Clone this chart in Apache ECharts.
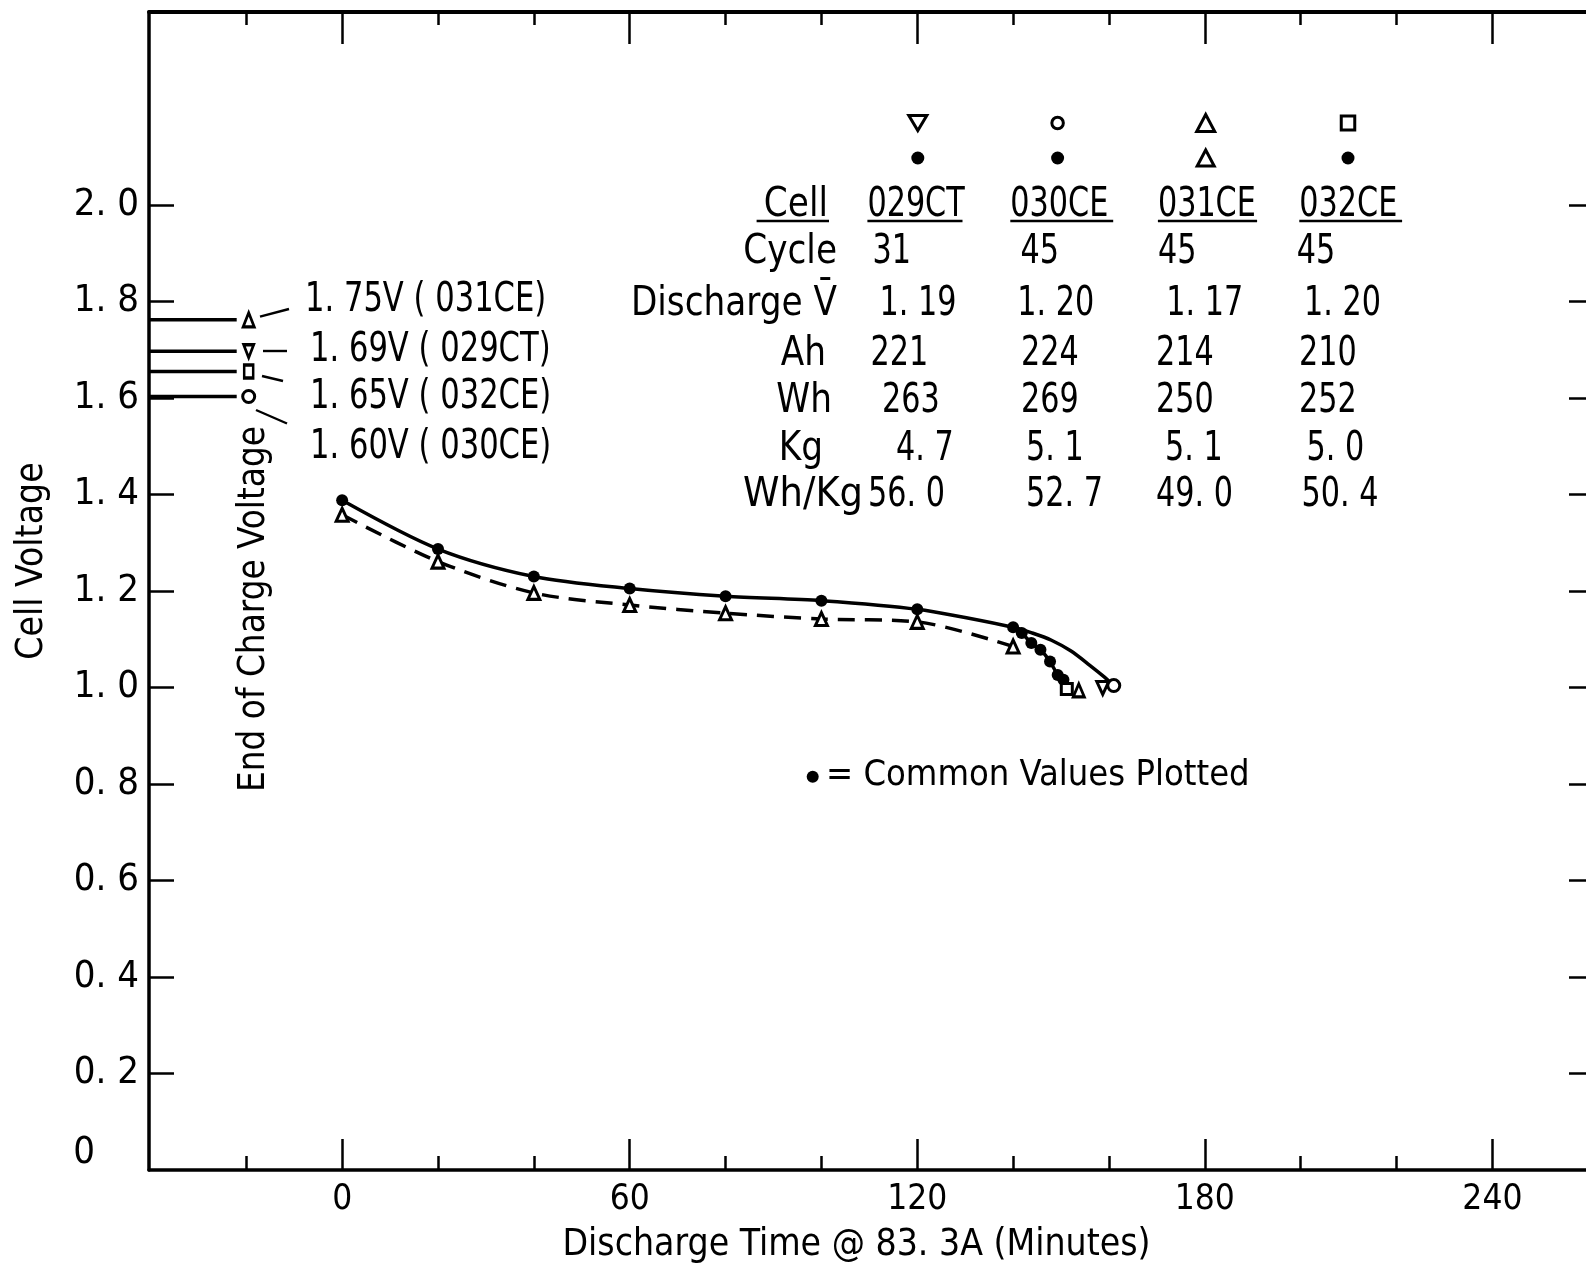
<!DOCTYPE html>
<html><head><meta charset="utf-8">
<script src="https://cdn.jsdelivr.net/npm/echarts@6/dist/echarts.min.js"></script>
<style>html,body{margin:0;padding:0;background:#fff;overflow:hidden;}#c{width:1600px;height:1271px;}</style>
</head><body><div id="c"></div>
<script>
// ---------------- data ----------------
const cellNames = ['029CT', '030CE', '031CE', '032CE'];
// common values (filled dots, solid line)
const commonTime = [0, 20, 40, 60, 80, 100, 120, 140];
const commonVolt = [1.388, 1.287, 1.230, 1.205, 1.189, 1.180, 1.162, 1.125];
// solid line tail to 030CE end point
const tail030Time = [144, 148, 152, 156, 159];
const tail030Volt = [1.113, 1.098, 1.076, 1.046, 1.022];
// 031CE (open triangles, dashed line)
const cell031Time = [0, 20, 40, 60, 80, 100, 120, 140];
const cell031Volt = [1.358, 1.261, 1.196, 1.171, 1.154, 1.142, 1.136, 1.085];
// common-value dots of the steep tail
const tailDotsTime = [141.8, 143.8, 145.7, 147.7, 149.3, 150.5];
const tailDotsVolt = [1.113, 1.092, 1.078, 1.054, 1.026, 1.016];
// end of discharge points per cell
const endTime = [158.7, 161.0, 153.7, 151.2];
const endVolt = [0.999, 1.004, 0.994, 0.997];
// end of charge voltages per cell
const eocRated = [1.69, 1.60, 1.75, 1.65];
const eocVolt = [1.697, 1.603, 1.762, 1.655];
// table
const cycles = [31, 45, 45, 45];
const dischargeV = [1.19, 1.20, 1.17, 1.20];
const ampHours = [221, 224, 214, 210];
const wattHours = [263, 269, 250, 252];
const massKg = [4.7, 5.1, 5.1, 5.0];
const whPerKg = [56.0, 52.7, 49.0, 50.4];
// axes
const yTickValues = [0.2, 0.4, 0.6, 0.8, 1.0, 1.2, 1.4, 1.6, 1.8, 2.0];
const yLabelValues = [0, 0.2, 0.4, 0.6, 0.8, 1.0, 1.2, 1.4, 1.6, 1.8, 2.0];
const xMajorTicks = [0, 60, 120, 180, 240];
const xMinorTicks = [-20, 20, 40, 80, 100, 140, 160, 200, 220];

// ---------------- layout / style ----------------
const NARROW = "'DejaVu Sans Condensed','Liberation Sans Narrow',sans-serif";
const X_MIN = -40.3, X_MAX = 261.2, Y_MIN = 0, Y_MAX = 2.4;
const EOC_MARK_X = -19.5, EOC_LINE_END = -22;
const endSym = {
  '029CT': {symbol: 'triangle', symbolRotate: 180, symbolSize: [12, 13]},
  '030CE': {symbol: 'circle', symbolSize: 12},
  '031CE': {symbol: 'triangle', symbolSize: [11, 13]},
  '032CE': {symbol: 'rect', symbolSize: [11, 11]}
};
const eocSym = {
  '029CT': {symbol: 'triangle', symbolRotate: 180, symbolSize: [10, 13]},
  '030CE': {symbol: 'circle', symbolSize: 12},
  '031CE': {symbol: 'triangle', symbolSize: [11, 14]},
  '032CE': {symbol: 'rect', symbolSize: [9, 13]}
};
const openStyle = {color: '#fff', borderColor: '#000', borderWidth: 3, opacity: 1};

function fmt(v, d) { return v.toFixed(d).replace('.', '. '); }

// ---------------- series ----------------
const solidData = commonTime.map((t, i) => [t, commonVolt[i]])
  .concat(tail030Time.map((t, i) => ({value: [t, tail030Volt[i]], symbol: 'none'})))
  .concat([{value: [endTime[1], endVolt[1]], symbol: 'none'}]);
const dashedData = cell031Time.map((t, i) => [t, cell031Volt[i]]);
const tailData = [{value: [commonTime[7], commonVolt[7]], symbol: 'none'}]
  .concat(tailDotsTime.map((t, i) => [t, tailDotsVolt[i]]))
  .concat([{value: [endTime[3], endVolt[3]], symbol: 'none'}]);
const endData = cellNames.map((c, i) => Object.assign({name: c, value: [endTime[i], endVolt[i]]}, endSym[c]));
const eocMarkData = cellNames.map((c, i) => Object.assign({name: c, value: [EOC_MARK_X, eocVolt[i]]}, eocSym[c]));

const series = [
  {type: 'line', name: 'Common values', data: solidData, smooth: 0.3, symbol: 'circle', symbolSize: 12,
   itemStyle: {color: '#000', opacity: 1}, lineStyle: {color: '#000', width: 3.5}, z: 3},
  {type: 'line', name: '031CE', data: dashedData, smooth: 0.3, symbol: 'triangle', symbolSize: [12, 13],
   itemStyle: openStyle, lineStyle: {color: '#000', width: 3.5, type: [17, 10]}, z: 4},
  {type: 'line', name: 'Common tail', data: tailData, smooth: 0.2, symbol: 'circle', symbolSize: 12,
   itemStyle: {color: '#000', opacity: 1}, lineStyle: {color: '#000', width: 3.5}, z: 3},
  {type: 'scatter', name: 'End of discharge', data: endData, itemStyle: openStyle, z: 6}
];
cellNames.forEach((c, i) => {
  series.push({type: 'line', name: 'EOC ' + c, data: [[X_MIN, eocVolt[i]], [EOC_LINE_END, eocVolt[i]]],
    symbol: 'none', lineStyle: {color: '#000', width: 3.5}, z: 2});
});
series.push({type: 'scatter', name: 'End of charge', data: eocMarkData, itemStyle: openStyle, z: 6});

// ---------------- graphic annotations ----------------
const g = [];
function txt(text, x, y, size, align, sx, extra) {
  return Object.assign({type: 'text', x: x, y: y, silent: true, scaleX: sx || 1,
    style: {text: text, fill: '#000', font: size + 'px ' + NARROW, textAlign: align || 'left', textVerticalAlign: 'middle'}}, extra || {});
}
function line(x1, y1, x2, y2, w) {
  return {type: 'line', silent: true, shape: {x1, y1, x2, y2}, style: {stroke: '#000', lineWidth: w || 2}};
}
function sym(kind, cx, cy, w, h) {
  const st = {fill: '#fff', stroke: '#000', lineWidth: 3};
  if (kind === 'up') return {type: 'polygon', shape: {points: [[cx, cy - h / 2], [cx + w / 2, cy + h / 2], [cx - w / 2, cy + h / 2]]}, style: st};
  if (kind === 'down') return {type: 'polygon', shape: {points: [[cx - w / 2, cy - h / 2], [cx + w / 2, cy - h / 2], [cx, cy + h / 2]]}, style: st};
  if (kind === 'circle') return {type: 'circle', shape: {cx, cy, r: w / 2}, style: st};
  if (kind === 'square') return {type: 'rect', shape: {x: cx - w / 2, y: cy - h / 2, width: w, height: h}, style: st};
  return {type: 'circle', shape: {cx, cy, r: w / 2}, style: {fill: '#000'}};
}

// end-of-charge labels (ordered top to bottom)
const eocOrder = cellNames.map((c, i) => i).sort((a, b) => eocRated[b] - eocRated[a]);
const eocLabelX = [305, 310, 310, 310];
const eocLabelY = [300, 350, 397, 447];
const leader = [[260, 316.7, 289, 309], [263, 351, 287, 351], [262, 376, 283, 381], [256, 410, 287, 423.5]];
eocOrder.forEach((ci, k) => {
  g.push(txt(fmt(eocRated[ci], 2) + 'V ( ' + cellNames[ci] + ')', eocLabelX[k], eocLabelY[k], 41, 'left', 0.83));
  g.push(line(...leader[k], 2.4));
});
g.push(txt('End of Charge Voltage', 255, 609, 36.5, 'center', 1, {rotation: Math.PI / 2}));

// table legend
const colCenter = [917.8, 1057.6, 1205.7, 1348];
const topSym = ['down', 'circle', 'up', 'square'];
const topSize = [[18, 15], [11.5, 11.5], [18, 17], [13.5, 14]];
const midSym = ['dot', 'dot', 'up', 'dot'];
const midSize = [[13, 13], [13, 13], [17, 16], [13, 13]];
cellNames.forEach((c, i) => {
  g.push(sym(topSym[i], colCenter[i], 123, topSize[i][0], topSize[i][1]));
  g.push(sym(midSym[i], colCenter[i], 158, midSize[i][0], midSize[i][1]));
});
const rowY = [205, 252, 304.5, 354, 401, 449, 495];
const rowLabels = ['Cell', 'Cycle', 'Discharge V\u0304', 'Ah', 'Wh', 'Kg', 'Wh/Kg'];
const rowLabelRight = [828, 837, 837, 826, 832, 823, 863];
const rowValues = [
  cellNames,
  cycles.map(String),
  dischargeV.map(v => fmt(v, 2)),
  ampHours.map(String),
  wattHours.map(String),
  massKg.map(v => fmt(v, 1)),
  whPerKg.map(v => fmt(v, 1))
];
const cellX = [
  [867.4, 1010.3, 1157.9, 1299.3],
  [872.5, 1020.6, 1158, 1296.7],
  [879.6, 1017.3, 1166.3, 1304],
  [870.4, 1021, 1156, 1299],
  [882, 1021, 1156, 1299],
  [896, 1026, 1165, 1306.6],
  [868, 1026, 1156, 1301.5]
];
rowLabels.forEach((lab, r) => {
  g.push(txt(lab, rowLabelRight[r], rowY[r], 41, 'right', r === 6 ? 1 : 0.93));
  rowValues[r].forEach((v, c) => g.push(txt(v, cellX[r][c], rowY[r], 41, 'left', 0.82)));
});
const underline = [[756.6, 829], [867.4, 962.5], [1010.3, 1113.2], [1157.9, 1257.1], [1299.3, 1402.1]];
underline.forEach(u => g.push(line(u[0], 221, u[1], 221, 2.6)));

// common values note
g.push(sym('dot', 812.7, 776.7, 12, 12));
g.push(txt('= Common Values Plotted', 826, 776, 36));

// ---------------- chart ----------------
const chart = echarts.init(document.getElementById('c'), null, {renderer: 'canvas'});
const axisBase = {min: X_MIN, max: X_MAX, type: 'value', splitLine: {show: false}};
chart.setOption({
  animation: false,
  backgroundColor: '#fff',
  grid: {left: 149, right: 6, top: 12, bottom: 101, containLabel: false},
  xAxis: [
    Object.assign({}, axisBase, {position: 'bottom',
      name: 'Discharge Time @ 83. 3A (Minutes)', nameLocation: 'middle', nameGap: 57,
      nameTextStyle: {fontFamily: NARROW, fontSize: 37, color: '#000', padding: [0, 30, 0, 0]},
      axisLine: {show: true, onZero: false, lineStyle: {color: '#000', width: 3.5}},
      axisTick: {show: true, inside: true, length: 31, customValues: xMajorTicks, lineStyle: {color: '#000', width: 2.5}},
      axisLabel: {show: true, customValues: xMajorTicks, margin: 12, color: '#000', fontFamily: NARROW, fontSize: 35}}),
    Object.assign({}, axisBase, {position: 'bottom',
      axisLine: {show: false, onZero: false},
      axisTick: {show: true, inside: true, length: 14, customValues: xMinorTicks, lineStyle: {color: '#000', width: 2.5}},
      axisLabel: {show: false}}),
    Object.assign({}, axisBase, {position: 'top',
      axisLine: {show: true, onZero: false, lineStyle: {color: '#000', width: 4}},
      axisTick: {show: true, inside: true, length: 32, customValues: xMajorTicks, lineStyle: {color: '#000', width: 2.5}},
      axisLabel: {show: false}}),
    Object.assign({}, axisBase, {position: 'top',
      axisLine: {show: false, onZero: false},
      axisTick: {show: true, inside: true, length: 13, customValues: xMinorTicks, lineStyle: {color: '#000', width: 2.5}},
      axisLabel: {show: false}})
  ],
  yAxis: [
    {type: 'value', min: Y_MIN, max: Y_MAX, position: 'left', splitLine: {show: false},
     name: 'Cell Voltage', nameLocation: 'middle', nameRotate: 90, nameGap: 98,
     nameTextStyle: {fontFamily: NARROW, fontSize: 37, color: '#000', padding: [0, 0, 0, 60]},
     axisLine: {show: true, onZero: false, lineStyle: {color: '#000', width: 3.5}},
     axisTick: {show: true, inside: true, length: 25, customValues: yTickValues, lineStyle: {color: '#000', width: 2.5}},
     axisLabel: {show: true, customValues: yLabelValues, margin: 10, color: '#000',
       formatter: v => Math.abs(v) < 1e-9 ? '{z|0}' : '{n|' + fmt(v, 1) + '}',
       rich: {n: {fontFamily: NARROW, fontSize: 38, color: '#000'},
              z: {fontFamily: NARROW, fontSize: 38, color: '#000', padding: [0, 44, 34, 0]}}}},
    {type: 'value', min: Y_MIN, max: Y_MAX, position: 'right', splitLine: {show: false},
     axisLine: {show: true, onZero: false, lineStyle: {color: '#000', width: 3.5}},
     axisTick: {show: true, inside: true, length: 25, customValues: yTickValues, lineStyle: {color: '#000', width: 2.5}},
     axisLabel: {show: false}}
  ],
  series: series,
  graphic: {elements: g}
});
</script></body></html>
